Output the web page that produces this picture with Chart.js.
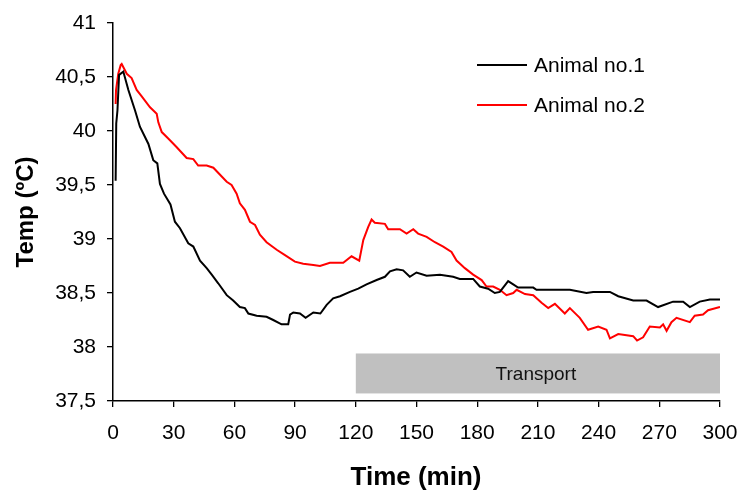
<!DOCTYPE html>
<html>
<head>
<meta charset="utf-8">
<script src="https://cdn.jsdelivr.net/npm/chart.js@4.4.0/dist/chart.umd.min.js"></script>
<style>
  body { margin: 0; background: #fff; }
  #wrap { width: 739px; height: 492px; }
</style>
</head>
<body>
<div id="wrap"><canvas id="tempChart" width="739" height="492"></canvas></div>
<script>
// Readings taken off the plot (minutes, °C)
const time1 = [1.3, 1.6, 2.2, 3.0, 5.1, 7.6, 10.9, 13.3, 17.5, 19.9, 21.9, 23.2, 25.2, 28.4, 30.6, 33.1, 37.2, 39.7, 43, 46.3,
  48.8, 52, 56.2, 59.4, 62.7, 65.2, 66.9, 71, 75.9, 79.2, 83.3, 86.6, 87.5, 89.1, 92.4, 95.2, 99, 102.5, 105.6, 108.8,
  112.2, 117.1, 121.2, 125.3, 130.3, 134.4, 136.9, 140.2, 143.4, 146.7, 150, 155, 161.6, 168.1, 171.4, 178, 181.3, 185.4, 188.7, 191.2,
  195.3, 197.8, 200.2, 207.7, 209.3, 215.9, 225.8, 234, 237.3, 245.6, 249.7, 257.1, 263.7, 269.4, 276.8, 281.8, 285.1, 290, 295, 300];
const temp1 = [39.54, 40.07, 40.19, 40.52, 40.55, 40.38, 40.19, 40.04, 39.88, 39.73, 39.70, 39.51, 39.42, 39.32, 39.16, 39.10, 38.96, 38.93, 38.80, 38.73,
  38.67, 38.59, 38.48, 38.43, 38.37, 38.36, 38.31, 38.29, 38.28, 38.25, 38.21, 38.21, 38.30, 38.32, 38.31, 38.27, 38.32, 38.31, 38.39, 38.45,
  38.47, 38.51, 38.54, 38.58, 38.62, 38.65, 38.70, 38.72, 38.71, 38.65, 38.69, 38.66, 38.67, 38.65, 38.63, 38.63, 38.56, 38.54, 38.50, 38.51,
  38.61, 38.58, 38.55, 38.55, 38.53, 38.53, 38.53, 38.50, 38.51, 38.51, 38.47, 38.43, 38.43, 38.37, 38.42, 38.42, 38.37, 38.42, 38.44, 38.44];

const time2 = [1.3, 1.5, 2.6, 3.8, 4.3, 6.8, 9.2, 11.7, 14.2, 18.3, 21.6, 22.4, 24.1, 27.3, 31.5, 36.4, 39.7, 42.1, 46.3, 49.6,
  56.2, 58.6, 61.1, 62.7, 65.2, 67.7, 70.2, 72.6, 75.9, 80.9, 85, 89.9, 94, 99, 102.3, 107.2, 113.8, 117.9, 121.7, 123.7,
  126.1, 127.8, 129.4, 134.4, 136, 141.8, 145.1, 148.4, 150.8, 155, 159.1, 163.2, 167.3, 169.8, 173.9, 178, 182.2, 184.6, 187.9, 191.2,
  194.5, 197.8, 199.5, 203.6, 207.7, 211.8, 215.1, 218.4, 223.3, 225.8, 230.7, 234.8, 239.8, 243.9, 245.6, 249.7, 257.1, 259, 262, 265.3,
  270.3, 271.9, 273.6, 276, 278.5, 285.1, 287.5, 291.6, 294.1, 300];
const temp2 = [40.25, 40.38, 40.53, 40.61, 40.62, 40.53, 40.49, 40.38, 40.32, 40.22, 40.16, 40.08, 39.99, 39.93, 39.85, 39.75, 39.74, 39.68, 39.68, 39.66,
  39.53, 39.50, 39.42, 39.33, 39.27, 39.16, 39.13, 39.04, 38.97, 38.90, 38.85, 38.79, 38.77, 38.76, 38.75, 38.78, 38.78, 38.84, 38.80, 38.99,
  39.11, 39.18, 39.15, 39.14, 39.09, 39.09, 39.05, 39.09, 39.05, 39.02, 38.97, 38.93, 38.88, 38.80, 38.73, 38.67, 38.62, 38.56, 38.56, 38.53,
  38.48, 38.50, 38.53, 38.49, 38.48, 38.41, 38.36, 38.40, 38.31, 38.36, 38.27, 38.16, 38.19, 38.16, 38.08, 38.12, 38.10, 38.06, 38.09, 38.19,
  38.18, 38.21, 38.15, 38.23, 38.27, 38.23, 38.29, 38.30, 38.34, 38.37];

const seriesNames = ['Animal no.1', 'Animal no.2'];
const seriesColors = ['#000000', '#ff0000'];

// Transport period band (minutes / °C)
const transportTime = [120, 300];
const transportTemp = [37.57, 37.94];

const FONT = 'Arial, "Liberation Sans", sans-serif';

function toPoints(xs, ys) {
    return xs.map((x, i) => ({ x: x, y: ys[i] }));
}

// Grey band with the "Transport" label, placed through the scales
const transportBand = {
    id: 'transportBand',
    beforeDatasetsDraw(chart) {
        const { ctx, scales: { x, y } } = chart;
        const left = x.getPixelForValue(transportTime[0]);
        const right = x.getPixelForValue(transportTime[1]);
        const top = y.getPixelForValue(transportTemp[1]);
        const bottom = y.getPixelForValue(transportTemp[0]);
        ctx.save();
        ctx.fillStyle = '#c0c0c0';
        ctx.fillRect(left, top, right - left, bottom - top);
        ctx.fillStyle = '#111';
        ctx.font = '19px ' + FONT;
        ctx.textAlign = 'center';
        ctx.textBaseline = 'middle';
        ctx.fillText('Transport', (left + right) / 2 - 2, (top + bottom) / 2 + 1);
        ctx.restore();
    }
};

// Axis titles and the legend, drawn by hand to sit where the original has them
const decorations = {
    id: 'decorations',
    afterDraw(chart) {
        const { ctx } = chart;
        ctx.save();
        ctx.fillStyle = '#000';
        ctx.textAlign = 'center';
        ctx.textBaseline = 'alphabetic';
        ctx.font = 'bold 26px ' + FONT;
        ctx.fillText('Time (min)', 416, 485);

        ctx.translate(33, 212);
        ctx.rotate(-Math.PI / 2);
        ctx.font = 'bold 24px ' + FONT;
        ctx.fillText('Temp (ºC)', 0, 0);
        ctx.restore();

        ctx.save();
        ctx.font = '21px ' + FONT;
        ctx.textAlign = 'left';
        ctx.textBaseline = 'alphabetic';
        seriesNames.forEach((name, i) => {
            const ly = 65 + i * 40;
            ctx.strokeStyle = seriesColors[i];
            ctx.lineWidth = 2;
            ctx.beginPath();
            ctx.moveTo(477, ly);
            ctx.lineTo(527, ly);
            ctx.stroke();
            ctx.fillStyle = '#000';
            ctx.fillText(name, 534, ly + 7);
        });
        ctx.restore();
    }
};

const axisGrid = {
    display: true,
    drawOnChartArea: false,
    drawTicks: true,
    tickLength: 6,
    color: '#000',
    lineWidth: 1.3
};

new Chart(document.getElementById('tempChart').getContext('2d'), {
    type: 'line',
    data: {
        datasets: [
            {
                label: seriesNames[0],
                data: toPoints(time1, temp1),
                borderColor: seriesColors[0],
                borderWidth: 2,
                pointRadius: 0,
                tension: 0
            },
            {
                label: seriesNames[1],
                data: toPoints(time2, temp2),
                borderColor: seriesColors[1],
                borderWidth: 2,
                pointRadius: 0,
                tension: 0
            }
        ]
    },
    options: {
        responsive: false,
        animation: false,
        layout: { padding: { top: 23, right: 19, left: 0, bottom: 0 } },
        plugins: {
            legend: { display: false },
            tooltip: { enabled: false }
        },
        scales: {
            x: {
                type: 'linear',
                min: 0,
                max: 300,
                grid: axisGrid,
                border: { color: '#000', width: 1.5 },
                ticks: {
                    stepSize: 30,
                    color: '#000',
                    font: { family: FONT, size: 21 },
                    padding: 14,
                    maxRotation: 0
                },
                afterFit: (scale) => {
                    scale.height = 91;
                    scale.paddingLeft = 0;
                    scale.paddingRight = 0;
                }
            },
            y: {
                min: 37.5,
                max: 41,
                grid: axisGrid,
                border: { color: '#000', width: 1.5 },
                ticks: {
                    stepSize: 0.5,
                    color: '#000',
                    font: { family: FONT, size: 21 },
                    padding: 11,
                    callback: (v) => String(v).replace('.', ',')
                },
                afterFit: (scale) => {
                    scale.width = 113;
                    scale.paddingTop = 0;
                    scale.paddingBottom = 0;
                }
            }
        }
    },
    plugins: [transportBand, decorations]
});
</script>
</body>
</html>
